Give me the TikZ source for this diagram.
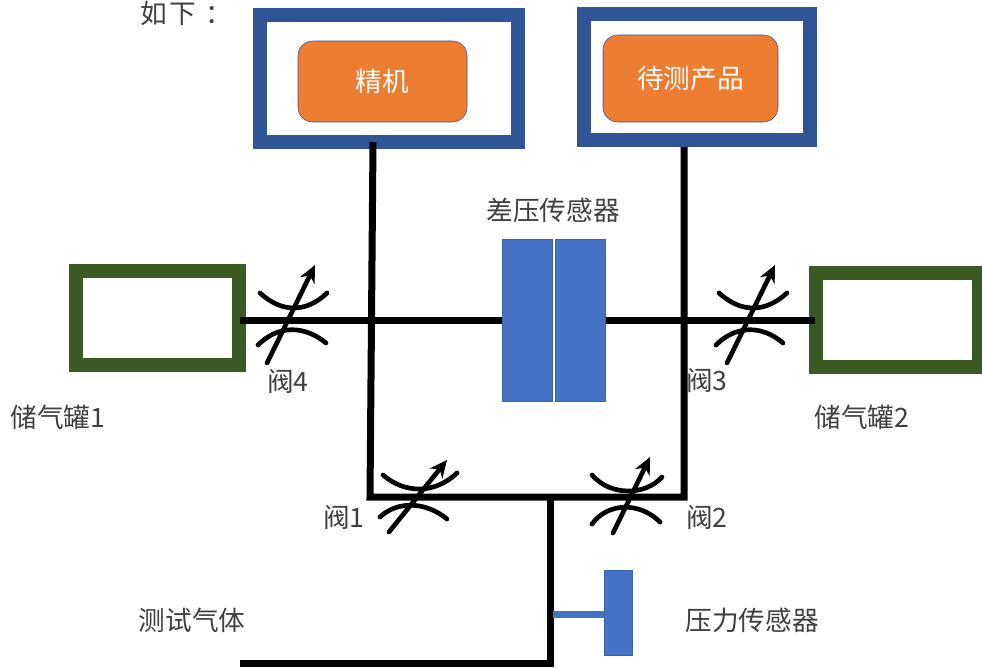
\documentclass[tikz,border=0pt]{standalone}
\usepackage{fontspec}
\setmainfont{Noto Sans CJK SC}
\usetikzlibrary{arrows.meta}
\definecolor{frameblue}{HTML}{2F5597}
\definecolor{tankgreen}{HTML}{3B5A24}
\definecolor{boxorange}{HTML}{ED7D31}
\definecolor{partblue}{HTML}{4472C4}
\definecolor{partedge}{HTML}{3A62A8}
\definecolor{labelgray}{HTML}{404040}
\tikzstyle{frame} = [rectangle, draw=frameblue, line width=10.5pt]
\tikzstyle{device} = [rectangle, rounded corners=11pt, draw=frameblue, fill=boxorange, text=white, font=\fontsize{20}{20}\selectfont]
\tikzstyle{tank} = [rectangle, draw=tankgreen, line width=10.5pt]
\tikzstyle{part} = [rectangle, draw=partedge, fill=partblue, line width=0.75pt]
\tikzstyle{label} = [text=labelgray, inner sep=0pt, font=\fontsize{20}{20}\selectfont]
\tikzstyle{pipe} = [black, line width=5.25pt]
\tikzstyle{stub} = [partblue, line width=5.25pt]
\tikzstyle{arc} = [black, line width=3.5pt, line cap=round]
\tikzstyle{arrow} = [black, line width=3.5pt, line cap=round, -{Stealth[length=13pt, width=12pt]}]

\begin{document}
\begin{tikzpicture}[x=0.75pt, y=-0.75pt]
\useasboundingbox (0,0) rectangle (982,668);

% Machines
\node (frameA) [frame, minimum width=193.5pt, minimum height=95.25pt] at (389,78.5) {};
\node (frameB) [frame, minimum width=169.5pt, minimum height=94.5pt] at (697,77) {};
\node (master) [device, minimum width=126.75pt, minimum height=60.75pt] at (382.5,81.5) {\raisebox{1pt}{精机}};
\node (product) [device, minimum width=131.25pt, minimum height=65.25pt] at (690.5,78.5) {\raisebox{2pt}{待测产品}};

% Tanks and sensors
\node (tankL) [tank, minimum width=122.25pt, minimum height=70.5pt] at (157.5,318) {};
\node (tankR) [tank, minimum width=122.25pt, minimum height=70.5pt] at (897.5,320) {};
\node (sensorL) [part, minimum width=37.5pt, minimum height=121.5pt] at (527,320) {};
\node (sensorR) [part, minimum width=37.5pt, minimum height=121.5pt] at (580,320) {};
\node (press) [part, minimum width=21pt, minimum height=63.75pt] at (618,612.5) {};

% Pipe ends and corners
\coordinate (startA) at (373,142);
\coordinate (startB) at (684,147);
\coordinate (cornerA) at (370,497);
\coordinate (cornerB) at (684,497);
\coordinate (tee) at (550,497);
\coordinate (bend) at (550,663);
\coordinate (inlet) at (240,663);
\coordinate (tapL) at (240,320);
\coordinate (tapR) at (815,320);
\coordinate (stem) at (553,614);

% Connecting pipes
\draw [pipe] (tapL) -- (sensorL.west);
\draw [pipe] (sensorR.east) -- (tapR);
\draw [pipe, line join=miter] (startA) -- (cornerA) -- (cornerB) -- (startB);
\draw [pipe, line join=miter] (tee) -- (bend) -- (inlet);
\draw [stub] (press.west |- stem) -- (stem);

% Valve 4
\draw [arc] (260,293) .. controls (282,313) and (306,313) .. (327,293);
\draw [arc] (258,345) .. controls (278,325) and (304,325) .. (326,343);
\draw [arrow] (267,363) -- (315,265);

% Valve 3
\draw [arc] (719,293) .. controls (741,313) and (765,313) .. (787,293);
\draw [arc] (716,345) .. controls (736,325) and (762,325) .. (783,343);
\draw [arrow] (727,363) -- (775,265);

% Valve 1
\draw [arc] (383,475) .. controls (405,494) and (435,494) .. (457,473);
\draw [arc] (380,517) .. controls (397,501) and (425,501) .. (447,519);
\draw [arrow] (389,532) -- (447,460);

% Valve 2
\draw [arc] (592,475) .. controls (610,496) and (645,496) .. (662,477);
\draw [arc] (592,524) .. controls (608,502) and (640,502) .. (660,522);
\draw [arrow] (613,533) -- (650,457);

% Labels
\node (title) [label, anchor=west] at (140,13) {如\hspace{2pt}下\hspace{7pt}：};
\node (sensorText) [label] at (553,210) {差压传感器};
\node (valveD) [label] at (288,382) {阀4};
\node (valveC) [label] at (707,381) {阀3};
\node (valveA) [label] at (344,518) {阀1};
\node (valveB) [label] at (707,518) {阀2};
\node (tankTextL) [label] at (58,417) {储气罐1};
\node (tankTextR) [label] at (862,417) {储气罐2};
\node (gasText) [label] at (192,620) {测试气体};
\node (pressText) [label] at (752,620) {压力传感器};

\end{tikzpicture}
\end{document}
